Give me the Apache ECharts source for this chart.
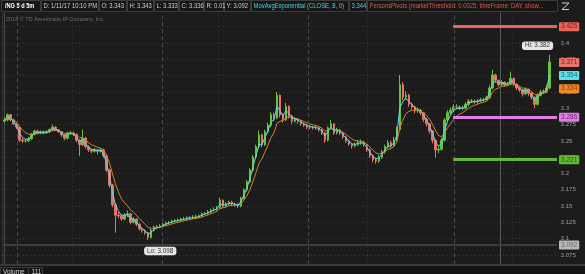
<!DOCTYPE html>
<html><head><meta charset="utf-8">
<script src="https://cdn.jsdelivr.net/npm/echarts@6/dist/echarts.min.js"></script>
<style>html,body{margin:0;padding:0;background:#1c1c1c;}#c{width:585px;height:274px;}</style>
</head><body><div id="c"></div>
<script>
const opens = [3.280,3.282,3.290,3.282,3.276,3.271,3.251,3.250,3.250,3.253,
 3.260,3.265,3.262,3.264,3.262,3.264,3.267,3.271,3.267,3.264,
 3.259,3.254,3.262,3.262,3.260,3.251,3.244,3.254,3.241,3.236,
 3.234,3.236,3.234,3.236,3.227,3.205,3.182,3.152,3.136,3.135,
 3.130,3.136,3.138,3.125,3.130,3.122,3.115,3.112,3.109,3.102,
 3.113,3.118,3.118,3.119,3.122,3.124,3.125,3.127,3.128,3.128,
 3.130,3.130,3.132,3.132,3.133,3.133,3.135,3.138,3.139,3.141,
 3.144,3.145,3.148,3.159,3.150,3.153,3.156,3.153,3.152,3.150,
 3.162,3.175,3.187,3.205,3.225,3.241,3.259,3.244,3.264,3.274,
 3.290,3.285,3.320,3.290,3.282,3.303,3.288,3.280,3.283,3.280,
 3.276,3.274,3.271,3.271,3.270,3.270,3.267,3.262,3.251,3.270,
 3.276,3.262,3.267,3.262,3.256,3.250,3.245,3.242,3.244,3.247,
 3.248,3.244,3.236,3.227,3.221,3.219,3.225,3.233,3.241,3.247,
 3.242,3.251,3.267,3.336,3.317,3.320,3.306,3.302,3.296,3.297,
 3.293,3.283,3.276,3.265,3.251,3.236,3.237,3.251,3.282,3.293,
 3.297,3.302,3.302,3.300,3.300,3.306,3.311,3.311,3.310,3.311,
 3.313,3.313,3.316,3.331,3.351,3.343,3.336,3.340,3.336,3.337,
 3.346,3.337,3.331,3.328,3.322,3.329,3.323,3.317,3.306,3.320,
 3.325,3.326,3.331];
const closes = [3.282,3.290,3.282,3.276,3.271,3.251,3.250,3.250,3.253,3.260,
 3.265,3.262,3.264,3.262,3.264,3.267,3.271,3.267,3.264,3.259,
 3.254,3.262,3.262,3.260,3.251,3.244,3.254,3.241,3.236,3.234,
 3.236,3.234,3.236,3.227,3.205,3.182,3.152,3.136,3.135,3.130,
 3.136,3.138,3.125,3.130,3.122,3.115,3.112,3.109,3.102,3.113,
 3.118,3.118,3.119,3.122,3.124,3.125,3.127,3.128,3.128,3.130,
 3.130,3.132,3.132,3.133,3.133,3.135,3.138,3.139,3.141,3.144,
 3.145,3.148,3.159,3.150,3.153,3.156,3.153,3.152,3.150,3.162,
 3.175,3.187,3.205,3.225,3.241,3.259,3.244,3.264,3.274,3.290,
 3.285,3.320,3.290,3.282,3.303,3.288,3.280,3.283,3.280,3.276,
 3.274,3.271,3.271,3.270,3.270,3.267,3.262,3.251,3.270,3.276,
 3.262,3.267,3.262,3.256,3.250,3.245,3.242,3.244,3.247,3.248,
 3.244,3.236,3.227,3.221,3.219,3.225,3.233,3.241,3.247,3.242,
 3.251,3.267,3.336,3.317,3.320,3.306,3.302,3.296,3.297,3.293,
 3.283,3.276,3.265,3.251,3.236,3.237,3.251,3.282,3.293,3.297,
 3.302,3.302,3.300,3.300,3.306,3.311,3.311,3.310,3.311,3.313,
 3.313,3.316,3.331,3.351,3.343,3.336,3.340,3.336,3.337,3.346,
 3.337,3.331,3.328,3.322,3.329,3.323,3.317,3.306,3.320,3.325,
 3.326,3.331,3.371];
const highs = [3.286,3.292,3.291,3.284,3.278,3.272,3.254,3.253,3.256,3.262,
 3.267,3.267,3.266,3.266,3.266,3.269,3.275,3.272,3.268,3.265,
 3.260,3.264,3.265,3.264,3.261,3.252,3.267,3.256,3.243,3.238,
 3.239,3.238,3.239,3.238,3.229,3.207,3.184,3.155,3.140,3.137,
 3.139,3.143,3.139,3.133,3.131,3.124,3.117,3.114,3.110,3.115,
 3.120,3.121,3.122,3.124,3.126,3.127,3.129,3.130,3.131,3.132,
 3.133,3.134,3.135,3.136,3.137,3.137,3.140,3.141,3.144,3.146,
 3.148,3.150,3.163,3.160,3.156,3.158,3.158,3.155,3.154,3.164,
 3.177,3.190,3.208,3.228,3.244,3.266,3.261,3.267,3.278,3.294,
 3.293,3.325,3.321,3.292,3.308,3.304,3.290,3.286,3.285,3.282,
 3.278,3.276,3.274,3.273,3.273,3.271,3.268,3.263,3.272,3.282,
 3.277,3.270,3.268,3.263,3.257,3.252,3.247,3.247,3.251,3.252,
 3.250,3.245,3.238,3.229,3.224,3.228,3.236,3.244,3.251,3.250,
 3.256,3.272,3.351,3.340,3.326,3.322,3.309,3.304,3.301,3.299,
 3.294,3.285,3.277,3.266,3.252,3.241,3.254,3.285,3.297,3.301,
 3.306,3.306,3.304,3.304,3.309,3.314,3.314,3.313,3.314,3.316,
 3.316,3.319,3.335,3.359,3.353,3.343,3.343,3.341,3.340,3.356,
 3.347,3.338,3.333,3.330,3.332,3.330,3.325,3.318,3.323,3.328,
 3.329,3.336,3.382];
const lows = [3.278,3.280,3.280,3.274,3.268,3.248,3.247,3.247,3.248,3.251,
 3.258,3.260,3.260,3.260,3.261,3.262,3.265,3.265,3.262,3.256,
 3.251,3.252,3.259,3.257,3.248,3.227,3.242,3.238,3.233,3.231,
 3.232,3.229,3.232,3.224,3.202,3.178,3.148,3.109,3.131,3.127,
 3.128,3.133,3.122,3.123,3.119,3.112,3.109,3.106,3.098,3.100,
 3.111,3.115,3.116,3.117,3.120,3.122,3.123,3.125,3.126,3.126,
 3.128,3.128,3.130,3.130,3.131,3.131,3.133,3.136,3.137,3.139,
 3.142,3.143,3.146,3.147,3.148,3.151,3.150,3.149,3.147,3.148,
 3.160,3.172,3.185,3.202,3.222,3.238,3.240,3.242,3.261,3.271,
 3.280,3.283,3.286,3.278,3.280,3.284,3.276,3.278,3.276,3.273,
 3.271,3.268,3.268,3.267,3.267,3.264,3.259,3.247,3.249,3.268,
 3.259,3.260,3.259,3.253,3.247,3.242,3.238,3.240,3.242,3.244,
 3.241,3.233,3.224,3.217,3.215,3.216,3.222,3.230,3.238,3.239,
 3.240,3.249,3.265,3.312,3.313,3.302,3.298,3.292,3.293,3.289,
 3.279,3.272,3.261,3.246,3.224,3.231,3.235,3.249,3.279,3.290,
 3.294,3.298,3.297,3.297,3.298,3.303,3.308,3.307,3.307,3.309,
 3.310,3.311,3.314,3.329,3.339,3.333,3.334,3.333,3.334,3.335,
 3.334,3.328,3.325,3.318,3.320,3.319,3.313,3.300,3.304,3.318,
 3.322,3.323,3.329];
const pivotLevels = [3.425, 3.286, 3.221];      // PersonsPivots R / PP / S
const axisTags = [3.371, 3.354, 3.334];         // last price, EMA fast, EMA slow
const crossPrice = 3.092;                       // crosshair price
const crossBar = 165.4;                         // crosshair bar position
const sessionBreaks = [4.2, 52.6, 101.3, 150.1];
const midBreaks = [22.5, 71.3, 121.0, 169.5];
const pivotStart = 149.8;
const hiPoint = [182, 3.382];
const loPoint = [48, 3.098];
const emaValueText = '3.344';
const headerTexts = ['/NG 5 d 5m', 'D: 1/11/17 10:10 PM',
  'O: ' + opens[165].toFixed(3), 'H: ' + highs[165].toFixed(3), 'L: ' + lows[165].toFixed(3),
  'C: ' + closes[165].toFixed(3), 'R: 0.01', 'Y: ' + crossPrice.toFixed(3),
  'MovAvgExponential (CLOSE, 8, 0)', emaValueText,
  'PersonsPivots (marketThreshold: 0.0025, timeFrame: DAY, show...'];
const footerTexts = ['Volume', '111'];
const watermark = '2016 \u00A9 TD Ameritrade IP Company, Inc.';

// ---- layout / style ----
const F = '"Liberation Sans", Arial, sans-serif';
const headerBoxes = [[1,40],[41,98],[99,126],[127,153],[154,178],[179,203],[204,223],[224,250],[251,348],[349,366],[367,557]];
const headerColors = ['#ffffff','#cfcfcf','#cfcfcf','#cfcfcf','#cfcfcf','#cfcfcf','#cfcfcf','#cfcfcf','#4fd3dc','#4fd3dc','#e0564e'];
const NCAT = closes.length + 2;

function ema(src, a) { const out = []; let e = src[0]; for (const v of src) { e = e + a * (v - e); out.push(+e.toFixed(4)); } return out; }
const emaFast = ema(closes, 0.55);
const emaSlow = ema(closes, 0.25);

const cats = closes.map((_, i) => 'b' + i).concat(['p1', 'p2']);
const candles = closes.map((c, i) => [opens[i], c, lows[i], highs[i]]);

const tagStyle = (bg, fg) => ({show: true, position: 'end', distance: 2, backgroundColor: bg, color: fg,
  padding: [1, 2, 0, 2], fontSize: 6.5, lineHeight: 8, fontFamily: F, borderRadius: 1});

const graphics = [];
// header
graphics.push({type: 'rect', shape: {x: 0, y: 0, width: 585, height: 12.5}, style: {fill: '#1c1c1c'}, z: 100});
headerBoxes.forEach((b, i) => {
  graphics.push({type: 'rect', shape: {x: b[0] + 0.5, y: 0.5, width: b[1] - b[0], height: 11}, style: {fill: '#161616', stroke: '#3c3c3c', lineWidth: 1}, z: 101});
  graphics.push({type: 'text', x: b[0] + (i === 0 ? 4 : 2.5), y: 6.5, scaleY: 1.12, style: {text: headerTexts[i], fill: headerColors[i],
    font: (i === 0 ? 'bold ' : '') + (i === 0 ? '5.6px ' : '5.9px ') + F, verticalAlign: 'middle'}, z: 102});
});
// header icon
graphics.push({type: 'polyline', shape: {points: [[562, 3], [569, 3], [562, 9.5], [569, 9.5]]}, style: {stroke: '#d0d0d0', lineWidth: 1, fill: null}, z: 102});
// watermark
graphics.push({type: 'text', x: 6, y: 19, style: {text: watermark, fill: '#6c6c6c', font: '5.5px ' + F, verticalAlign: 'middle'}, z: 50});
// left border
graphics.push({type: 'line', shape: {x1: 2.5, y1: 12, x2: 2.5, y2: 265}, style: {stroke: '#333333', lineWidth: 1}, z: 50});
// footer
graphics.push({type: 'rect', shape: {x: 0, y: 264, width: 585, height: 10}, style: {fill: '#141414'}, z: 100});
graphics.push({type: 'rect', shape: {x: 0, y: 264, width: 585, height: 2}, style: {fill: '#3a3a3a'}, z: 101});
graphics.push({type: 'rect', shape: {x: 0.5, y: 267.5, width: 28, height: 8}, style: {fill: '#161616', stroke: '#3c3c3c', lineWidth: 1}, z: 101});
graphics.push({type: 'rect', shape: {x: 28.5, y: 267.5, width: 14, height: 8}, style: {fill: '#161616', stroke: '#3c3c3c', lineWidth: 1}, z: 101});
graphics.push({type: 'text', x: 3, y: 272, style: {text: footerTexts[0], fill: '#cfcfcf', font: '6.5px ' + F, verticalAlign: 'middle'}, z: 102});
graphics.push({type: 'text', x: 31.5, y: 272, style: {text: footerTexts[1], fill: '#cfcfcf', font: '6.5px ' + F, verticalAlign: 'middle'}, z: 102});

const pivotColors = [['#e8645c', '#7a221c'], ['#e07ee6', '#6a2570'], ['#62b832', '#2c5a12']];
const tagColors = [['#ea746c', '#7a221c'], ['#5ee0e8', '#1f6a70'], ['#ee8a2e', '#7a3c06']];

const option = {
  backgroundColor: '#1c1c1c',
  animation: false,
  grid: {left: 3, right: 28, top: 10.4, bottom: 2.8, outerBoundsMode: 'none', containLabel: false},
  xAxis: [
    {type: 'category', data: cats, boundaryGap: true, show: false},
    {type: 'value', min: -0.5, max: NCAT - 0.5, show: false, splitLine: {show: false}}
  ],
  yAxis: {type: 'value', position: 'right', min: 3.05, max: 3.45, interval: 0.025,
    axisLine: {show: true, lineStyle: {color: '#4c4c4c'}}, axisTick: {show: false},
    axisLabel: {color: '#9c9c9c', fontSize: 6.2, margin: 3.5, fontFamily: F, showMinLabel: false, showMaxLabel: false,
      formatter: v => String(+v.toFixed(3))},
    splitLine: {show: true, lineStyle: {color: '#3a3a3a', type: [1, 3], width: 1}}},
  series: [
    {type: 'line', xAxisIndex: 1, data: [], silent: true, z: 1,
      markLine: {silent: true, symbol: ['none', 'none'], label: {show: false},
        data: sessionBreaks.map(v => ({xAxis: v, lineStyle: {color: '#4a4a4a', type: [4, 3], width: 1}}))
          .concat(midBreaks.map(v => ({xAxis: v, lineStyle: {color: '#3a3a3a', type: [1, 3], width: 1}})))
          .concat([{xAxis: crossBar, lineStyle: {color: '#5a5a5a', type: 'solid', width: 1}}])
          .concat([{yAxis: crossPrice, lineStyle: {color: '#3c3c3c', type: 'solid', width: 2},
            label: Object.assign(tagStyle('#b8b8b8', '#6a6a6a'), {formatter: crossPrice.toFixed(3)})}])
      }},
    {type: 'candlestick', xAxisIndex: 0, data: candles, barWidth: 2, z: 3,
      itemStyle: {color: '#6cbf3a', color0: '#e8736a', borderColor: '#6cbf3a', borderColor0: '#e8736a', borderWidth: 1},
      markPoint: {symbol: 'rect', symbolSize: [1, 1], itemStyle: {color: 'rgba(0,0,0,0)'},
        label: {show: true, position: 'inside', color: '#333', backgroundColor: '#e6e6e6', borderRadius: 3,
          padding: [1.5, 3, 1, 3], fontSize: 6.3, fontFamily: F},
        data: [
          {coord: [hiPoint[0], hiPoint[1]], value: hiPoint[1], label: {formatter: 'Hi: ' + hiPoint[1].toFixed(3), offset: [-12, -9]}},
          {coord: [loPoint[0], loPoint[1]], value: loPoint[1], label: {formatter: 'Lo: ' + loPoint[1].toFixed(3), offset: [12, 11]}}
        ]}},
    {type: 'line', xAxisIndex: 0, data: emaSlow, symbol: 'none', z: 4, lineStyle: {color: '#d9822b', width: 1}},
    {type: 'line', xAxisIndex: 0, data: emaFast, symbol: 'none', z: 5, lineStyle: {color: '#5cdbe4', width: 1}},
    {type: 'line', xAxisIndex: 1, data: [], silent: true, z: 6,
      markLine: {silent: true, symbol: ['none', 'none'],
        data: pivotLevels.map((p, i) => [
          {coord: [pivotStart, p], lineStyle: {color: pivotColors[i][0], width: 3, type: 'solid'},
            label: Object.assign(tagStyle(pivotColors[i][0], pivotColors[i][1]), {formatter: p.toFixed(3)})},
          {coord: [NCAT - 0.5, p]}
        ]).concat(axisTags.map((t, i) => ({yAxis: t, lineStyle: {color: 'rgba(0,0,0,0)', width: 0},
            label: Object.assign(tagStyle(tagColors[i][0], tagColors[i][1]), {formatter: t.toFixed(3)})})))
      }}
  ],
  graphic: graphics
};
const chart = echarts.init(document.getElementById('c'), null, {renderer: 'canvas'});
chart.setOption(option);
</script></body></html>
